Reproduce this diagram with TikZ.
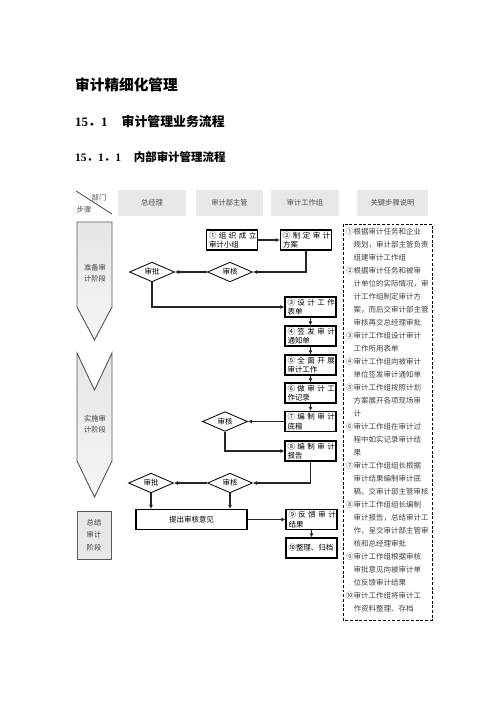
\documentclass[tikz,border=0pt]{standalone}
\usepackage{fontspec}
\setmainfont{Noto Sans CJK SC}
\newfontfamily\latin{Liberation Serif}
\usetikzlibrary{shapes.geometric, arrows.meta}

\begin{document}
\begin{tikzpicture}[
    x=0.03cm, y=-0.03cm,
    heading/.style={
        anchor=west,
        inner sep=0pt,
        font=\bfseries
    },
    colhead/.style={
        rectangle,
        fill=gray!18,
        minimum width=2.04cm,
        minimum height=0.78cm,
        text=black!70,
        font=\fontsize{6.2}{7}\selectfont
    },
    stepbox/.style={
        rectangle,
        draw,
        line width=0.9pt,
        minimum width=1.53cm,
        minimum height=0.6cm,
        text width=1.38cm,
        inner sep=1pt,
        align=left,
        font=\fontsize{6.4}{8}\selectfont
    },
    check/.style={
        diamond,
        draw,
        line width=0.7pt,
        aspect=2.2,
        minimum width=1.35cm,
        minimum height=0.59cm,
        inner sep=0pt,
        font=\fontsize{6.4}{7}\selectfont
    },
    phase/.style={
        draw=black!65,
        line width=0.8pt,
        top color=gray!20,
        bottom color=gray!7
    },
    phaselabel/.style={
        align=center,
        text=black!75,
        font=\fontsize{6.2}{9.4}\selectfont
    },
    flow/.style={
        -{Latex[length=3.5pt, width=3.5pt]},
        line width=0.9pt,
        black!85
    },
    notes/.style={
        anchor=north west,
        align=left,
        inner sep=0pt,
        text=black!75,
        font=\fontsize{6.4}{11.1}\selectfont
    }
]
\useasboundingbox (0,0) rectangle (496,702);

% Headings
\node[heading, font=\bfseries\fontsize{12.5}{14}\selectfont] (title) at (75,85) {审计精细化管理};
\node[heading, font=\bfseries\fontsize{11}{13}\selectfont] (sec) at (75,122) {{\latin 15}．{\latin 1}\hspace{1.1em}审计管理业务流程};
\node[heading, font=\bfseries\fontsize{9.8}{12}\selectfont] (subsec) at (75,157) {{\latin 15}．{\latin 1}．{\latin 1}\hspace{1.1em}内部审计管理流程};

% Column heads
\draw[black!80, line width=0.6pt] (76,191) -- (112,214);
\node[text=black!70, font=\fontsize{6.2}{7}\selectfont] (dept) at (99,198) {部门};
\node[text=black!70, font=\fontsize{6.2}{7}\selectfont] (stage) at (84,210) {步骤};
\node[colhead] (gm) at (152,203) {总经理};
\node[colhead, minimum width=2.01cm] (mgr) at (229.5,203) {审计部主管};
\node[colhead] (team) at (305,203) {审计工作组};
\node[colhead, minimum width=2.13cm] (keyhead) at (392.5,203) {关键步骤说明};

% Phases
\draw[phase] (77,222) -- (112,222) -- (112,307) -- (94.5,340) -- (77,307) -- cycle;
\draw[phase] (77,353) -- (94.5,390) -- (112,353) -- (112,461) -- (94.5,497) -- (77,461) -- cycle;
\draw[phase, top color=gray!18, bottom color=gray!18] (77,511) rectangle (111,559);
\node[phaselabel] (prep) at (95,273) {准备审\\计阶段};
\node[phaselabel] (exec) at (95,424) {实施审\\计阶段};
\node[phaselabel, font=\fontsize{6.2}{10.7}\selectfont] (sum) at (94,535) {总结\\审计\\阶段};

% Steps
\node[stepbox] (box1) at (232,240) {\makebox[1.38cm][s]{① 组 织 成 立}\\审计小组};
\node[stepbox] (box2) at (306,240) {\makebox[1.38cm][s]{② 制 定 审 计}\\方案};
\node[stepbox] (box3) at (310.5,307) {\makebox[1.38cm][s]{③ 设 计 工 作}\\表单};
\node[stepbox] (box4) at (310.5,336) {\makebox[1.38cm][s]{④ 签 发 审 计}\\通知单};
\node[stepbox] (box5) at (310.5,365) {\makebox[1.38cm][s]{⑤ 全 面 开 展}\\审计工作};
\node[stepbox] (box6) at (310.5,393) {\makebox[1.38cm][s]{⑥ 做 审 计 工}\\作记录};
\node[stepbox] (box7) at (310.5,421.5) {\makebox[1.38cm][s]{⑦ 编 制 审 计}\\底稿};
\node[stepbox] (box8) at (310.5,451) {\makebox[1.38cm][s]{⑧ 编 制 审 计}\\报告};
\node[stepbox] (box9) at (311.5,519.5) {\makebox[1.38cm][s]{⑨ 反 馈 审 计}\\结果};
\node[stepbox] (box10) at (311.5,548) {⑩整理、归档};
\node[stepbox, minimum width=3.33cm, text width=3.2cm, align=center] (opinion) at (191.5,519.5) {提出审核意见};

% Checks
\node[check] (rev1) at (230,272) {审核};
\node[check] (app1) at (152,272) {审批};
\node[check] (rev2) at (225,421.5) {审核};
\node[check] (rev3) at (230,483) {审核};
\node[check] (app2) at (151,483) {审批};

% Arrows
\draw[flow] (box1) -- (box2);
\draw[flow] (box2.south) |- (rev1.east);
\draw[flow] (rev1) -- (app1);
\draw[flow] (app1.south) |- (box3.west);
\draw[flow] (box3) -- (box4);
\draw[flow] (box4) -- (box5);
\draw[flow] (box5) -- (box6);
\draw[flow] (box6) -- (box7);
\draw[flow] (box7) -- (rev2);
\draw[flow] (rev2.south) |- (box8.west);
\draw[flow] (box8.south) |- (rev3.east);
\draw[flow] (rev3) -- (app2);
\draw[flow] (app2.south) -- (app2.south |- opinion.north);
\draw[flow] (rev3.south) -- (rev3.south |- opinion.north);
\draw[flow] (opinion) -- (box9);
\draw[flow] (box9) -- (box10);

% Key step notes
\draw[dash pattern=on 2.5pt off 1.5pt, line width=0.8pt] (343,224) rectangle (432,620);
\node[notes] (keynotes) at (346,228) {①根据审计任务和企业\\
\hspace*{1em}规划，审计部主管负责\\
\hspace*{1em}组建审计工作组\\
②根据审计任务和被审\\
\hspace*{1em}计单位的实际情况，审\\
\hspace*{1em}计工作组制定审计方\\
\hspace*{1em}案，而后交审计部主管\\
\hspace*{1em}审核再交总经理审批\\
③审计工作组设计审计\\
\hspace*{1em}工作所用表单\\
④审计工作组向被审计\\
\hspace*{1em}单位签发审计通知单\\
⑤审计工作组按照计划\\
\hspace*{1em}方案展开各项现场审\\
\hspace*{1em}计\\
⑥审计工作组在审计过\\
\hspace*{1em}程中如实记录审计结\\
\hspace*{1em}果\\
⑦审计工作组组长根据\\
\hspace*{1em}审计结果编制审计底\\
\hspace*{1em}稿，交审计部主管审核\\
⑧审计工作组组长编制\\
\hspace*{1em}审计报告，总结审计工\\
\hspace*{1em}作，呈交审计部主管审\\
\hspace*{1em}核和总经理审批\\
⑨审计工作组根据审核\\
\hspace*{1em}审批意见向被审计单\\
\hspace*{1em}位反馈审计结果\\
⑩审计工作组将审计工\\
\hspace*{1em}作资料整理、存档};

\end{tikzpicture}
\end{document}
